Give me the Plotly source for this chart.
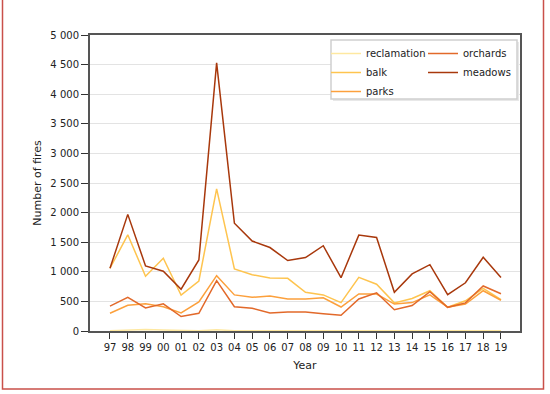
import plotly.graph_objects as go

years = ["97", "98", "99", "00", "01", "02", "03", "04", "05", "06", "07", "08",
         "09", "10", "11", "12", "13", "14", "15", "16", "17", "18", "19"]

reclamation = [5, 10, 25, 15, 5, 5, 20, 5, 5, 5, 5, 5, 5, 5, 5, 5, 5, 5, 5, 5, 5, 5, 5]
balk = [1060, 1625, 925, 1230, 605, 845, 2400, 1050, 950, 895, 890, 655,
        610, 480, 905, 790, 475, 550, 680, 400, 510, 720, 530]
parks = [300, 435, 460, 410, 305, 490, 935, 610, 570, 590, 540, 540,
         560, 405, 625, 625, 455, 480, 610, 400, 455, 680, 520]
orchards = [420, 570, 390, 460, 245, 300, 850, 410, 385, 305, 320, 320,
            290, 265, 540, 645, 360, 430, 665, 400, 475, 760, 630]
meadows = [1060, 1970, 1100, 1010, 705, 1200, 4530, 1820, 1520, 1410, 1190, 1240,
           1440, 900, 1620, 1580, 655, 965, 1120, 615, 815, 1245, 905]

series = [
    ("reclamation", reclamation, "#fee8a0", "legend"),
    ("balk", balk, "#fec44f", "legend"),
    ("parks", parks, "#fca03c", "legend"),
    ("orchards", orchards, "#e2692a", "legend2"),
    ("meadows", meadows, "#a8380c", "legend2"),
]

fig = go.Figure()
for name, vals, color, lg in series:
    fig.add_trace(go.Scatter(x=years, y=vals, mode="lines", name=name,
                             line=dict(color=color, width=1.5), legend=lg))

W, H = 550, 394
L, R, T, B = 90, 30, 35, 63
pw, ph = W - L - R, H - T - B


def px(x):
    return (x - L) / pw


def py(y):
    return (H - B - y) / ph


font = "DejaVu Sans, Verdana, sans-serif"
fig.update_layout(
    width=W, height=H,
    margin=dict(l=L, r=R, t=T, b=B, autoexpand=False),
    paper_bgcolor="white", plot_bgcolor="white",
    font=dict(family=font, size=10, color="#222"),
    separators=". ",
    showlegend=True,
    legend=dict(x=px(326), y=py(39), xanchor="left", yanchor="top",
                bgcolor="rgba(0,0,0,0)", font=dict(size=10), tracegroupgap=0,
                itemwidth=30),
    legend2=dict(x=px(423), y=py(39), xanchor="left", yanchor="top",
                 bgcolor="rgba(0,0,0,0)", font=dict(size=10), tracegroupgap=0,
                 itemwidth=30),
    xaxis=dict(
        type="category", range=[-1.125, 23.07],
        showline=True, linecolor="#555", linewidth=2, mirror=True,
        ticks="outside", ticklen=6, tickcolor="#333", tickwidth=1,
        showgrid=False, zeroline=False,
        tickfont=dict(size=10),
        title=dict(text="Year", font=dict(size=11), standoff=9),
    ),
    yaxis=dict(
        range=[0, 5000], tickvals=list(range(0, 5001, 500)),
        tickformat=",d",
        showline=True, linecolor="#555", linewidth=2, mirror=True,
        ticks="outside", ticklen=7, tickcolor="#333", tickwidth=1,
        showgrid=True, gridcolor="#e3e3e3", gridwidth=1,
        zeroline=False, tickfont=dict(size=10),
        title=dict(text="Number of fires", font=dict(size=11), standoff=7),
    ),
    shapes=[
        dict(type="rect", xref="paper", yref="paper",
             x0=px(2.5), x1=px(543.5), y0=py(389), y1=py(-3),
             line=dict(color="#c9504a", width=1.5), fillcolor="rgba(0,0,0,0)",
             layer="above"),
        dict(type="rect", xref="paper", yref="paper",
             x0=px(333), x1=px(519), y0=py(101), y1=py(42),
             line=dict(color="rgba(0,0,0,0)", width=0), fillcolor="#e8e8e8",
             layer="above"),
        dict(type="rect", xref="paper", yref="paper",
             x0=px(331), x1=px(517), y0=py(99), y1=py(40),
             line=dict(color="#cfcfcf", width=1.5), fillcolor="white",
             layer="above"),
    ],
)

fig.write_html("out.html",
               config={"displayModeBar": False},
               post_script="document.body.style.margin='0';"
                           "document.body.style.overflow='hidden';")
